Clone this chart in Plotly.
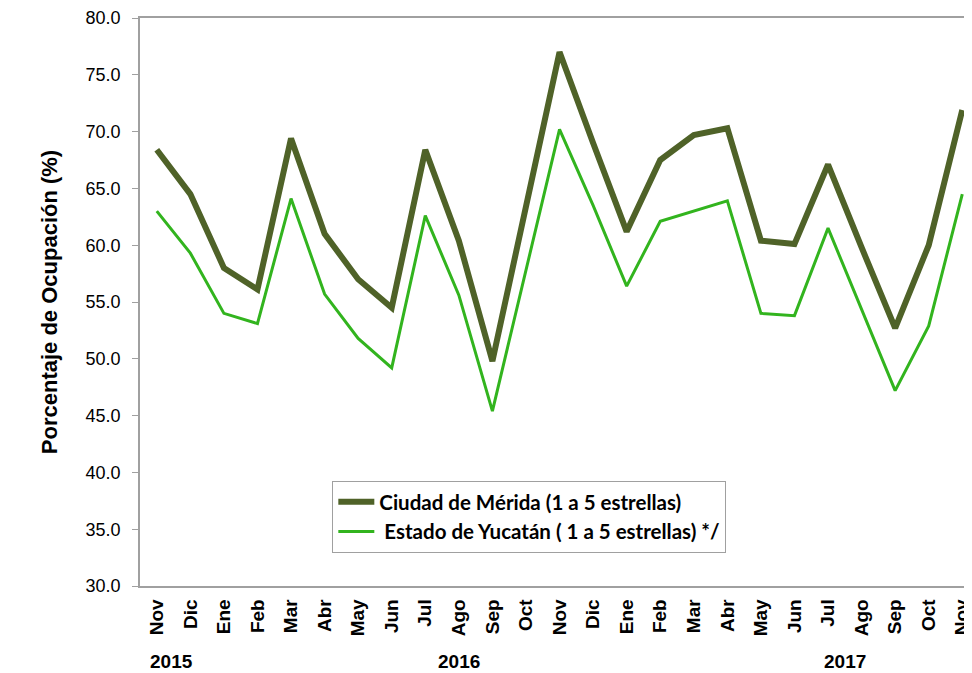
import plotly.graph_objects as go

months = ["Nov", "Dic", "Ene", "Feb", "Mar", "Abr", "May", "Jun", "Jul", "Ago", "Sep", "Oct",
          "Nov", "Dic", "Ene", "Feb", "Mar", "Abr", "May", "Jun", "Jul", "Ago", "Sep", "Oct", "Nov"]
years = ["2015", "2016", "2017"]
year_pos = [0.45, 9.0, 20.5]

merida = [68.4, 64.5, 58.0, 56.1, 69.4, 61.0, 57.0, 54.5, 68.4, 60.4, 49.8, 63.4,
          77.0, 69.0, 61.2, 67.5, 69.7, 70.3, 60.4, 60.1, 67.1, 59.8, 52.7, 60.0, 71.9]
yucatan = [63.0, 59.3, 54.0, 53.1, 64.1, 55.7, 51.8, 49.2, 62.6, 55.6, 45.4, 57.8,
           70.2, 63.5, 56.4, 62.1, 63.0, 63.9, 54.0, 53.8, 61.5, 54.4, 47.2, 52.9, 64.5]

series_names = ["Ciudad de Mérida (1 a 5 estrellas)", "\u00a0Estado de Yucatán ( 1 a 5 estrellas) */"]

x = list(range(len(months)))

fig = go.Figure()
fig.add_trace(go.Scatter(x=x, y=merida, mode="lines", name=series_names[0], legendgroup="a",
                         line=dict(color="#4F6228", width=6)))
fig.add_trace(go.Scatter(x=x, y=yucatan, mode="lines", name=series_names[1], legendgroup="b",
                         line=dict(color="#32B41E", width=3)))

for yr, p in zip(years, year_pos):
    fig.add_annotation(x=p, y=-0.133, xref="x", yref="paper", yanchor="middle",
                       text="<b>" + yr + "</b>", showarrow=False,
                       font=dict(size=19, color="black", family="Liberation Sans, Arial"))

axis_grey = "#A0A0A0"

fig.update_layout(
    width=964, height=665,
    margin=dict(l=132, r=0, t=7, b=87),
    paper_bgcolor="white", plot_bgcolor="white",
    font=dict(family="Liberation Sans, Arial", color="black"),
    showlegend=True,
    legend=dict(x=0.232, y=0.185, xanchor="left", yanchor="top",
                bordercolor=axis_grey, borderwidth=1, bgcolor="white",
                font=dict(size=20.5, family="Lato, Open Sans", color="black", weight="bold"),
                traceorder="grouped", tracegroupgap=0, itemwidth=36),
    xaxis=dict(range=[-0.5, 24.2], tickmode="array", tickvals=x,
               ticktext=["<b>" + m + "</b>" for m in months], tickangle=-90,
               tickfont=dict(size=19, color="black", family="Liberation Sans, Arial"),
               showline=True, linecolor=axis_grey, linewidth=1.5, mirror=True,
               showgrid=False, zeroline=False, ticks="", ticklabelstandoff=4,
               ticklabeloverflow="allow"),
    yaxis=dict(range=[30, 80], tickmode="linear", tick0=30, dtick=5, tickformat=".1f",
               tickfont=dict(size=18, color="black", family="Liberation Sans, Arial"),
               showline=True, linecolor=axis_grey, linewidth=1.5,
               ticks="outside", ticklen=6, tickcolor=axis_grey, ticklabelstandoff=8,
               ticklabeloverflow="allow",
               showgrid=False, zeroline=False,
               title=dict(text="<b>Porcentaje de Ocupación (%)</b>", standoff=22,
                          font=dict(size=22, color="black", family="Liberation Sans, Arial"))),
)

fig.write_html("out.html")
